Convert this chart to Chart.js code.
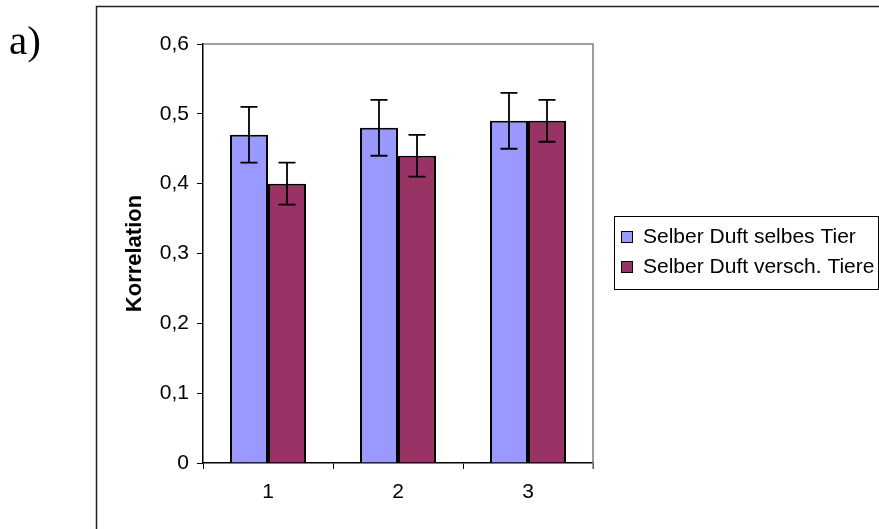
<!DOCTYPE html>
<html>
<head>
<meta charset="utf-8">
<script src="https://cdn.jsdelivr.net/npm/chart.js@4/dist/chart.umd.min.js"></script>
<style>
  html, body { margin: 0; padding: 0; background: #fff; }
  #c { display: block; }
</style>
</head>
<body>
<canvas id="c" width="879" height="529"></canvas>
<script>
// Categories and series
const categories = ['1', '2', '3'];
const seriesNames = ['Selber Duft selbes Tier', 'Selber Duft versch. Tiere'];
const sameAnimal = [0.47, 0.48, 0.49];
const sameAnimalErr = [0.04, 0.04, 0.04];
const diffAnimals = [0.40, 0.44, 0.49];
const diffAnimalsErr = [0.03, 0.03, 0.03];
const yTicks = [0, 0.1, 0.2, 0.3, 0.4, 0.5, 0.6];

const FONT = '"Liberation Sans", Arial, sans-serif';

// Whiskers for each bar, read from dataset.err
const errorBars = {
  id: 'errorBars',
  afterDatasetsDraw(chart) {
    const ctx = chart.ctx;
    const y = chart.scales.y;
    ctx.save();
    ctx.strokeStyle = '#000';
    ctx.lineWidth = 1.8;
    chart.data.datasets.forEach((ds, di) => {
      const meta = chart.getDatasetMeta(di);
      meta.data.forEach((bar, i) => {
        const v = ds.data[i], e = ds.err[i];
        const yHi = y.getPixelForValue(v + e);
        const yLo = y.getPixelForValue(v - e);
        const cap = 8.5;
        ctx.beginPath();
        ctx.moveTo(bar.x, yHi); ctx.lineTo(bar.x, yLo);
        ctx.moveTo(bar.x - cap, yHi); ctx.lineTo(bar.x + cap, yHi);
        ctx.moveTo(bar.x - cap, yLo); ctx.lineTo(bar.x + cap, yLo);
        ctx.stroke();
      });
    });
    ctx.restore();
  }
};

// Frame, plot border, panel letter and legend box
const decorations = {
  id: 'decorations',
  beforeDatasetsDraw(chart) {
    const ctx = chart.ctx;
    const a = chart.chartArea;
    ctx.save();
    ctx.strokeStyle = '#808080';
    ctx.lineWidth = 1.5;
    ctx.beginPath();
    ctx.moveTo(a.left, a.top); ctx.lineTo(a.right, a.top);
    ctx.lineTo(a.right, a.bottom + 6);
    ctx.stroke();
    ctx.restore();
  },
  afterDraw(chart) {
    const ctx = chart.ctx;
    ctx.save();
    // outer frame
    ctx.strokeStyle = '#222';
    ctx.lineWidth = 1.5;
    ctx.beginPath();
    ctx.moveTo(96.5, 529); ctx.lineTo(96.5, 6.5); ctx.lineTo(879, 6.5);
    ctx.stroke();
    // panel letter
    ctx.fillStyle = '#000';
    ctx.font = '41px "Liberation Serif", "Times New Roman", serif';
    ctx.textBaseline = 'alphabetic';
    ctx.fillText('a)', 9, 54);
    // legend
    ctx.strokeStyle = '#000';
    ctx.lineWidth = 1;
    ctx.strokeRect(614.5, 216.5, 264, 73);
    ctx.font = '21px ' + FONT;
    chart.data.datasets.forEach((ds, i) => {
      const cy = 237 + i * 30;
      ctx.fillStyle = ds.backgroundColor;
      ctx.fillRect(621, cy - 6, 12, 12);
      ctx.strokeStyle = '#000';
      ctx.lineWidth = 1;
      ctx.strokeRect(621.5, cy - 5.5, 11, 11);
      ctx.fillStyle = '#000';
      ctx.textBaseline = 'alphabetic';
      ctx.fillText(ds.label, 643, cy + 6);
    });
    ctx.restore();
  }
};

new Chart(document.getElementById('c'), {
  type: 'bar',
  data: {
    labels: categories,
    datasets: [
      { label: seriesNames[0], data: sameAnimal, err: sameAnimalErr,
        backgroundColor: '#9999FF', borderColor: '#000', borderWidth: 2 },
      { label: seriesNames[1], data: diffAnimals, err: diffAnimalsErr,
        backgroundColor: '#993366', borderColor: '#000', borderWidth: 2 }
    ]
  },
  options: {
    responsive: false,
    animation: false,
    events: [],
    layout: { padding: { left: 100, top: 44, right: 286, bottom: 0 } },
    datasets: { bar: { categoryPercentage: 0.585, barPercentage: 1.0 } },
    plugins: { legend: { display: false }, tooltip: { enabled: false } },
    scales: {
      x: {
        afterFit(s) { s.height = 66; },
        grid: { offset: true, drawOnChartArea: false, drawTicks: true, tickLength: 6,
                color: '#000', lineWidth: 1 },
        border: { color: '#000', width: 1.5 },
        ticks: { color: '#000', padding: 11, font: { family: FONT, size: 21 } }
      },
      y: {
        min: 0, max: 0.6,
        afterFit(s) { s.width = 103; },
        afterBuildTicks(s) { s.ticks = yTicks.map(v => ({ value: v })); },
        grid: { drawOnChartArea: false, drawTicks: true, tickLength: 6,
                color: '#000', lineWidth: 1 },
        border: { color: '#000', width: 1.5 },
        ticks: {
          color: '#000', padding: 8, font: { family: FONT, size: 21 },
          callback: v => v === 0 ? '0' : v.toFixed(1).replace('.', ',')
        },
        title: { display: true, text: 'Korrelation', color: '#000',
                 font: { family: FONT, size: 22, weight: 'bold' },
                 padding: { top: 22, bottom: 0 } }
      }
    }
  },
  plugins: [errorBars, decorations]
});
</script>
</body>
</html>
